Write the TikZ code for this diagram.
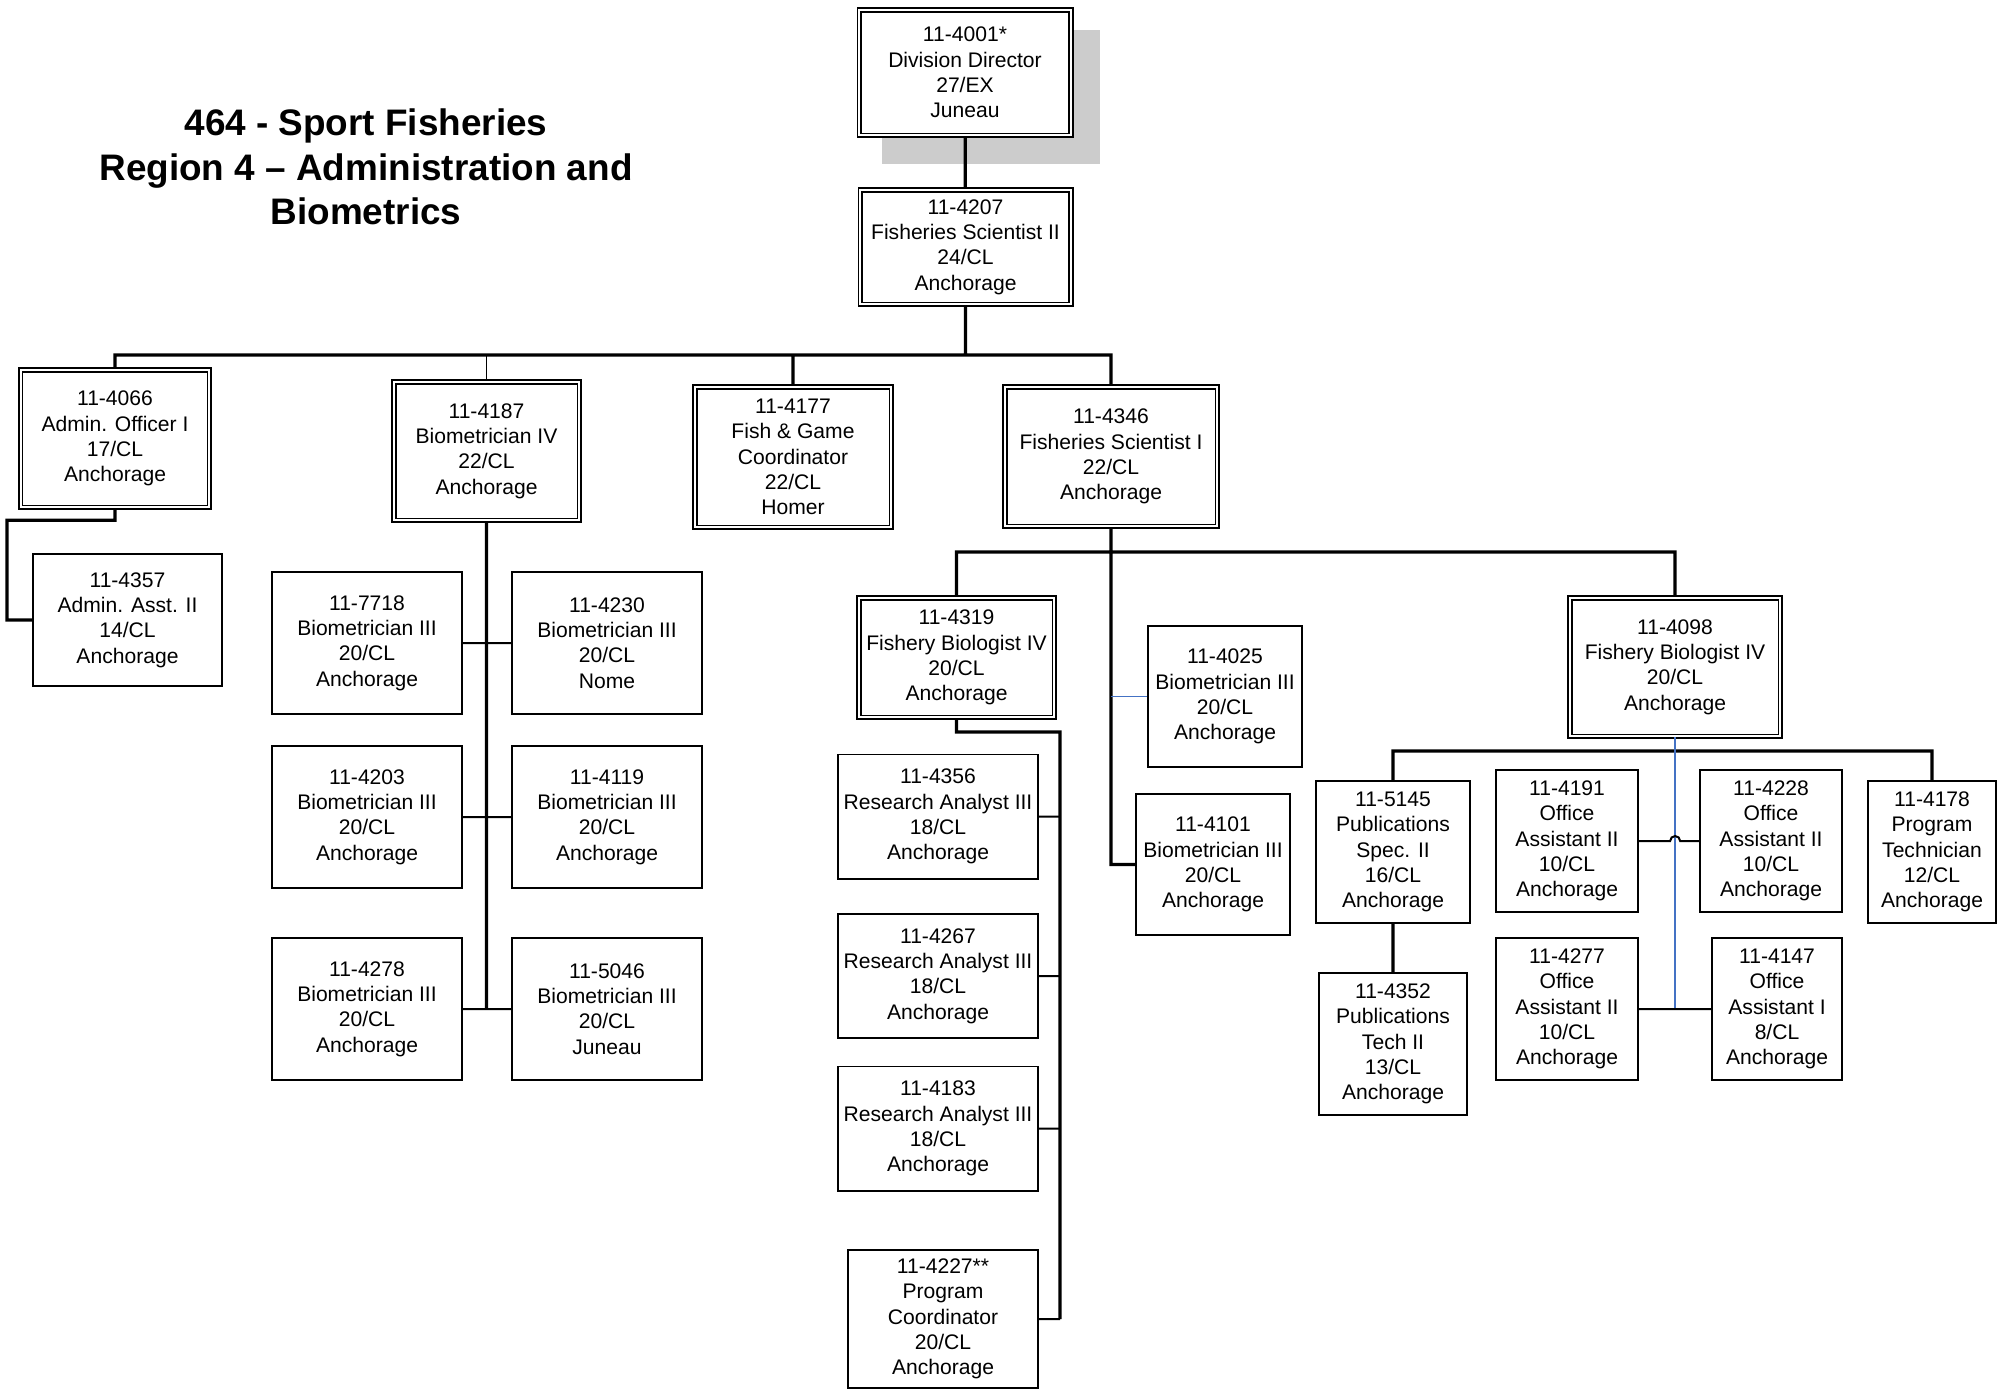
\documentclass[tikz,border=0pt]{standalone}
\usepackage{fontspec}
\setmainfont{Liberation Sans}
\usepackage{tikz}
\definecolor{boxgray}{RGB}{204,204,204}
\definecolor{linkblue}{RGB}{68,114,196}

\begin{document}
\begin{tikzpicture}[x=0.2mm, y=-0.2mm]
	\tikzstyle{every node} = [rectangle, draw=black, fill=white, align=center, font=\fontsize{12}{14.4}\selectfont, line width=0.35mm, inner sep=0pt]
	\tikzstyle{dbl} = [double, double distance=0.4mm]
	\tikzstyle{wire} = [line width=0.4mm]
	\tikzstyle{trunk} = [line width=0.65mm]
	\useasboundingbox (0,0) rectangle (2002,1390);

	\node[draw=none, fill=none, font=\bfseries\fontsize{21}{25.3}\selectfont] (title) at (366,167) {464 - Sport Fisheries\\Region 4 -- Administration and\\Biometrics};

	%Grey block behind the director box
	\fill[boxgray] (882,30) rectangle (1100,164);
	\node[dbl, minimum width=42.3mm, minimum height=25.1mm] (director) at (965,72.5) {11-4001*\\Division Director\\27/EX\\Juneau};
	\node[dbl, minimum width=42.1mm, minimum height=22.9mm] (fish_sci2) at (965.5,247) {11-4207\\Fisheries Scientist II\\24/CL\\Anchorage};

	\node[dbl, minimum width=37.7mm, minimum height=27.5mm] (admin_off) at (115,438.5) {11-4066\\Admin. Officer I\\17/CL\\Anchorage};
	\node[dbl, minimum width=37.1mm, minimum height=27.7mm] (biom4) at (486.5,451) {11-4187\\Biometrician IV\\22/CL\\Anchorage};
	\node[dbl, minimum width=39.3mm, minimum height=28.1mm] (fg_coord) at (793,457) {11-4177\\Fish \& Game\\Coordinator\\22/CL\\Homer};
	\node[dbl, minimum width=42.5mm, minimum height=27.9mm] (fish_sci1) at (1111,456.5) {11-4346\\Fisheries Scientist I\\22/CL\\Anchorage};

	\node[minimum width=37.9mm, minimum height=26.5mm] (admin_asst) at (127.5,620) {11-4357\\Admin. Asst. II\\14/CL\\Anchorage};

	\node[minimum width=38.1mm, minimum height=28.5mm] (biom_7718) at (367,643) {11-7718\\Biometrician III\\20/CL\\Anchorage};
	\node[minimum width=38.1mm, minimum height=28.5mm] (biom_4230) at (607,643) {11-4230\\Biometrician III\\20/CL\\Nome};
	\node[minimum width=38.1mm, minimum height=28.5mm] (biom_4203) at (367,817) {11-4203\\Biometrician III\\20/CL\\Anchorage};
	\node[minimum width=38.1mm, minimum height=28.5mm] (biom_4119) at (607,817) {11-4119\\Biometrician III\\20/CL\\Anchorage};
	\node[minimum width=38.1mm, minimum height=28.5mm] (biom_4278) at (367,1009) {11-4278\\Biometrician III\\20/CL\\Anchorage};
	\node[minimum width=38.1mm, minimum height=28.5mm] (biom_5046) at (607,1009) {11-5046\\Biometrician III\\20/CL\\Juneau};

	\node[dbl, minimum width=39.1mm, minimum height=23.9mm] (fish_bio4a) at (956.5,657.5) {11-4319\\Fishery Biologist IV\\20/CL\\Anchorage};
	\node[minimum width=40.1mm, minimum height=24.9mm] (res_4356) at (938,816.7) {11-4356\\Research Analyst III\\18/CL\\Anchorage};
	\node[minimum width=40.1mm, minimum height=24.9mm] (res_4267) at (938,976) {11-4267\\Research Analyst III\\18/CL\\Anchorage};
	\node[minimum width=40.1mm, minimum height=24.9mm] (res_4183) at (938,1128.7) {11-4183\\Research Analyst III\\18/CL\\Anchorage};
	\node[minimum width=38.1mm, minimum height=27.7mm] (prog_coord) at (943,1319) {11-4227**\\Program\\Coordinator\\20/CL\\Anchorage};

	\node[minimum width=30.9mm, minimum height=28.3mm] (biom_4025) at (1225,696.5) {11-4025\\Biometrician III\\20/CL\\Anchorage};
	\node[minimum width=30.9mm, minimum height=28.3mm] (biom_4101) at (1213,864.5) {11-4101\\Biometrician III\\20/CL\\Anchorage};

	\node[dbl, minimum width=42.1mm, minimum height=27.7mm] (fish_bio4b) at (1675,667) {11-4098\\Fishery Biologist IV\\20/CL\\Anchorage};
	\node[minimum width=30.9mm, minimum height=28.5mm] (pub_spec) at (1393,852) {11-5145\\Publications\\Spec. II\\16/CL\\Anchorage};
	\node[minimum width=29.7mm, minimum height=28.5mm] (pub_tech) at (1393,1044) {11-4352\\Publications\\Tech II\\13/CL\\Anchorage};
	\node[minimum width=28.5mm, minimum height=28.5mm] (off_4191) at (1567,841) {11-4191\\Office\\Assistant II\\10/CL\\Anchorage};
	\node[minimum width=28.5mm, minimum height=28.5mm] (off_4277) at (1567,1009) {11-4277\\Office\\Assistant II\\10/CL\\Anchorage};
	\node[minimum width=28.5mm, minimum height=28.5mm] (off_4228) at (1771,841) {11-4228\\Office\\Assistant II\\10/CL\\Anchorage};
	\node[minimum width=26.1mm, minimum height=28.5mm] (off_4147) at (1777,1009) {11-4147\\Office\\Assistant I\\8/CL\\Anchorage};
	\node[minimum width=25.7mm, minimum height=28.5mm] (prog_tech) at (1932,852) {11-4178\\Program\\Technician\\12/CL\\Anchorage};

	\coordinate (bus_top) at (965.5,355);
	\coordinate (bus_mid) at (1111,552);
	\coordinate (biom_end) at (486.5,1009);
	\coordinate (ra_bus) at (1060,732);
	\coordinate (bus_off) at (1675,751);

	\draw[trunk]
	(director) -- (fish_sci2)
	(fish_sci2.south) -- (bus_top)
	(admin_off.north) |- (bus_top)
	(fish_sci1.north) |- (bus_top)
	(fg_coord.north) -- (fg_coord.north |- bus_top)
	(admin_off.south) -- ++(0,12) -- ++(-108,0) |- (admin_asst.west)
	(biom4.south) -- (biom_end)
	(fish_sci1.south) |- (biom_4101.west)
	(fish_bio4a.north) |- (bus_mid) -| (fish_bio4b.north)
	(fish_bio4a.south) |- (ra_bus) -- (ra_bus |- prog_coord.east)
	(pub_spec.north) |- (bus_off) -| (prog_tech.north)
	(pub_spec) -- (pub_tech)
	;
	\draw[line width=0.2mm] (biom4.north) -- (biom4.north |- bus_top);
	\draw[line width=0.35mm, linkblue]
	(biom_4025.west) -- (fish_sci1.south |- biom_4025.west)
	(fish_bio4b.south) -- (fish_bio4b.south |- off_4277.east)
	;
	\draw[wire]
	(biom_7718.east) -- (biom_4230.west)
	(biom_4203.east) -- (biom_4119.west)
	(biom_4278.east) -- (biom_5046.west)
	(res_4356.east) -- (ra_bus |- res_4356.east)
	(res_4267.east) -- (ra_bus |- res_4267.east)
	(res_4183.east) -- (ra_bus |- res_4183.east)
	(prog_coord.east) -- (ra_bus |- prog_coord.east)
	(off_4191.east) -- ++(31,0) arc[start angle=180, end angle=0, radius=1mm] -- (off_4228.west)
	(off_4277.east) -- (off_4147.west)
	;
\end{tikzpicture}
\end{document}
